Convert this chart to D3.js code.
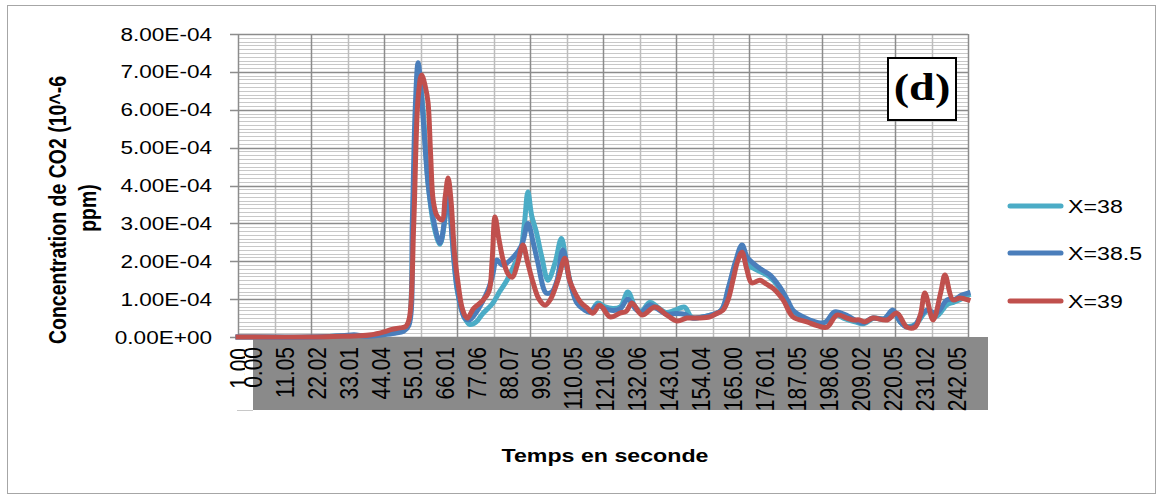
<!DOCTYPE html>
<html>
<head>
<meta charset="utf-8">
<script src="https://cdn.jsdelivr.net/npm/d3@7"></script>
<style>
  body { margin: 0; background: #fff; }
  svg { display: block; }
</style>
</head>
<body>
<svg id="chart" width="1162" height="499"></svg>
<script>
// ---- data -------------------------------------------------------------
const seriesNames  = ["X=38", "X=38.5", "X=39"];
const seriesColors = ["#4bacc6", "#4a7ebb", "#c0504d"];

// time (s) and CO2 concentration for each probe position
const time38 = [-5.84, 0, 20, 30, 40, 46, 50, 52.5, 53.2, 54.5, 56.2, 57.5, 59.5, 61.5, 63.5, 65.2, 66.3, 67.5, 69.5, 72, 73.8, 76, 78, 81.7, 84, 86.5, 89, 91, 92.5, 93.7, 95, 96.5, 98.5, 100.6, 103, 105.2, 107.2, 109.9, 112.5, 115, 117.7, 120, 123, 125.5, 128, 130.5, 132.5, 135.6, 138, 141, 144, 147.5, 150, 155, 160, 162.5, 165, 167.2, 169.5, 172, 176.5, 180, 183, 186, 190, 194, 197, 199, 202, 206, 209, 212.5, 216, 219, 221.5, 224, 227, 229.5, 231, 234, 237.5, 240, 242.5, 244.8];
const conc38 = [0, 0, 0, 3e-6, 4e-6, 1e-5, 1.5e-5, 3e-5, 5e-5, 4e-4, 7.0e-4, 6.2e-4, 4.0e-4, 2.9e-4, 2.45e-4, 3.1e-4, 4.0e-4, 2.8e-4, 1.2e-4, 5e-5, 3.3e-5, 4e-5, 6e-5, 9e-5, 1.2e-4, 1.5e-4, 1.9e-4, 2.2e-4, 3.0e-4, 3.83e-4, 3.2e-4, 2.8e-4, 2.1e-4, 1.5e-4, 1.95e-4, 2.6e-4, 1.8e-4, 1.05e-4, 8e-5, 6.5e-5, 9e-5, 8e-5, 7.5e-5, 8e-5, 1.19e-4, 8e-5, 6.8e-5, 9.2e-5, 8e-5, 6.5e-5, 7e-5, 7.9e-5, 5.2e-5, 5.5e-5, 7e-5, 1.2e-4, 1.9e-4, 2.35e-4, 1.9e-4, 1.78e-4, 1.6e-4, 1.3e-4, 8e-5, 6e-5, 4.5e-5, 3.5e-5, 4.5e-5, 6e-5, 5e-5, 4e-5, 3.5e-5, 5e-5, 4.8e-5, 6.8e-5, 4e-5, 2.8e-5, 3.5e-5, 6e-5, 7e-5, 5.5e-5, 8.5e-5, 9.2e-5, 1.0e-4, 1.1e-4];

const time385 = [-5.84, 20, 30, 34, 38, 44, 48, 51, 52.8, 54, 55, 56, 57.5, 59.4, 61.1, 63.5, 65.2, 66.3, 67.6, 69.5, 72, 73.5, 75.5, 77.9, 80, 81.5, 83, 85, 88.6, 91.6, 93.7, 95.5, 97, 100, 102, 103.7, 105.7, 108, 110.5, 113, 115, 117.7, 120, 123, 125.5, 128, 130.5, 132.5, 135.6, 138, 141.4, 144.5, 147.5, 150, 155, 160, 162.5, 165, 167.2, 169, 171, 173.5, 176.8, 180.2, 183, 184.7, 189, 194, 196, 199, 203, 206, 208.7, 212, 216, 219, 221.5, 223.8, 226.5, 228.5, 230.7, 234, 237.6, 240.5, 242.5, 244.8];
const conc385 = [0, 0, 3e-6, 6e-6, 2e-6, 6e-6, 1e-5, 1.5e-5, 3e-5, 3.0e-4, 6.0e-4, 7.24e-4, 6.0e-4, 4.06e-4, 3.17e-4, 2.48e-4, 3.17e-4, 4.06e-4, 2.7e-4, 1.25e-4, 5e-5, 4.5e-5, 6e-5, 9e-5, 1.24e-4, 1.6e-4, 2.03e-4, 1.9e-4, 2.1e-4, 2.43e-4, 3.0e-4, 2.5e-4, 2.0e-4, 1.16e-4, 1.2e-4, 1.5e-4, 2.3e-4, 1.5e-4, 9e-5, 7.2e-5, 6.6e-5, 8.4e-5, 7.5e-5, 7e-5, 7.5e-5, 1.0e-4, 7.5e-5, 6.5e-5, 8.5e-5, 7.5e-5, 6e-5, 6.2e-5, 6e-5, 5e-5, 5.5e-5, 7e-5, 1.3e-4, 2.0e-4, 2.43e-4, 2.1e-4, 1.95e-4, 1.8e-4, 1.64e-4, 1.32e-4, 9.5e-5, 7.1e-5, 5e-5, 3.7e-5, 4e-5, 6.6e-5, 5.8e-5, 4.5e-5, 3.7e-5, 5e-5, 4.8e-5, 7.1e-5, 4e-5, 2.6e-5, 3e-5, 5.5e-5, 7.1e-5, 6.3e-5, 9.8e-5, 1.0e-4, 1.1e-4, 1.16e-4];

const time39 = [-5.84, 20, 30, 36, 40, 44, 47, 49.8, 51.8, 53, 54.5, 56, 57.2, 58.5, 59.4, 60.3, 61.2, 62.5, 64.2, 65.3, 66.3, 67.3, 68.5, 69.7, 71, 72.2, 73, 75, 78, 80.3, 81.4, 82.4, 83.7, 85.2, 87, 88.4, 90, 92, 93.5, 95.5, 97.5, 99.6, 101.5, 104, 106.4, 108, 109.9, 112, 114, 116, 118.4, 121.9, 125.3, 127.5, 129.4, 132.9, 137.3, 141.4, 144.9, 148.3, 152, 156.2, 158.5, 160.7, 162.5, 164.1, 165.7, 167.2, 168.8, 170.5, 173.4, 175.5, 177.8, 181.3, 184.7, 189.5, 193, 196.4, 199.8, 203.2, 205.3, 207.5, 209.4, 212.2, 217, 220.4, 223.8, 226.6, 228.5, 230, 232.8, 235.5, 236.9, 239.6, 242, 244.8];
const conc39 = [0, 0, 2e-6, 3e-6, 6e-6, 1.3e-5, 2e-5, 2.4e-5, 2.8e-5, 5e-5, 3.0e-4, 6.3e-4, 6.92e-4, 6.6e-4, 6.2e-4, 4.8e-4, 3.6e-4, 3.2e-4, 3.09e-4, 3.7e-4, 4.2e-4, 3.6e-4, 2.2e-4, 1.43e-4, 8e-5, 5.5e-5, 5e-5, 7.5e-5, 9.5e-5, 1.2e-4, 2.0e-4, 3.17e-4, 2.6e-4, 2.03e-4, 1.65e-4, 1.58e-4, 1.9e-4, 2.43e-4, 2.0e-4, 1.43e-4, 1.0e-4, 8.4e-5, 1.0e-4, 1.5e-4, 2.08e-4, 1.5e-4, 1.16e-4, 9e-5, 7.7e-5, 6.3e-5, 8.4e-5, 5.3e-5, 6.3e-5, 6.8e-5, 9e-5, 5.8e-5, 7.9e-5, 5.8e-5, 4.2e-5, 5e-5, 5e-5, 5.3e-5, 6.2e-5, 7.1e-5, 1.0e-4, 1.5e-4, 2.0e-4, 2.24e-4, 1.8e-4, 1.43e-4, 1.5e-4, 1.4e-4, 1.29e-4, 9.8e-5, 5.3e-5, 4e-5, 3e-5, 2.6e-5, 5.8e-5, 5e-5, 4.5e-5, 4.5e-5, 4e-5, 5e-5, 4.5e-5, 6.3e-5, 2.6e-5, 2.6e-5, 6e-5, 1.16e-4, 4.5e-5, 1.2e-4, 1.64e-4, 9.8e-5, 1.03e-4, 9.8e-5];

// time-axis labels
const tickTimes  = [0, 11.05, 22.02, 33.01, 44.04, 55.01, 66.01, 77.06, 88.07, 99.05, 110.05, 121.06, 132.06, 143.01, 154.04, 165.00, 176.01, 187.05, 198.06, 209.02, 220.05, 231.02, 242.05];
const tickLabels = ["0.00", "11.05", "22.02", "33.01", "44.04", "55.01", "66.01", "77.06", "88.07", "99.05", "110.05", "121.06", "132.06", "143.01", "154.04", "165.00", "176.01", "187.05", "198.06", "209.02", "220.05", "231.02", "242.05"];
const firstCategoryLabel = "1.00";

// concentration axis
const yTicks      = [0, 1e-4, 2e-4, 3e-4, 4e-4, 5e-4, 6e-4, 7e-4, 8e-4];
const yTickLabels = ["0.00E+00", "1.00E-04", "2.00E-04", "3.00E-04", "4.00E-04", "5.00E-04", "6.00E-04", "7.00E-04", "8.00E-04"];
const yMinorStep = 1e-5;

const seriesTimes  = [time38, time385, time39];
const seriesValues = [conc38, conc385, conc39];

// ---- layout -----------------------------------------------------------
const plot = { left: 238, right: 968, top: 34, bottom: 337 };
const SX = 1.22;            // horizontal text stretch
const FONT = "'Liberation Sans', Arial, sans-serif";

const svg = d3.select("#chart");

const x = d3.scaleLinear().domain([-5.84, 244.8]).range([plot.left, plot.right]);
const y = d3.scaleLinear().domain([0, 8e-4]).range([plot.bottom, plot.top]);

function stretched(sel, px, py, rot) {
  return sel.attr("transform", `translate(${px},${py}) scale(${SX},1)` + (rot ? ` rotate(${rot})` : ""));
}

// outer frame
svg.append("rect")
  .attr("x", 7.5).attr("y", 5.5).attr("width", 1148).attr("height", 488)
  .attr("fill", "#fff").attr("stroke", "#a6a6a6").attr("stroke-width", 1);

// ---- grid -------------------------------------------------------------
const grid = svg.append("g");
const minorVals = d3.range(0, 8e-4 + 1e-9, yMinorStep).filter(v => Math.abs(v / 1e-4 - Math.round(v / 1e-4)) > 1e-6);
grid.selectAll("line.hmin").data(minorVals).join("line")
  .attr("x1", plot.left).attr("x2", plot.right)
  .attr("y1", d => Math.round(y(d)) + 0.5).attr("y2", d => Math.round(y(d)) + 0.5)
  .attr("stroke", "#c8c8c8").attr("stroke-width", 1);

const nCols = 20;
const colX = d3.range(1, nCols + 1).map(i => plot.left + (plot.right - plot.left) * i / nCols);
grid.selectAll("line.v").data(colX).join("line")
  .attr("x1", d => Math.round(d) + 0.5).attr("x2", d => Math.round(d) + 0.5)
  .attr("y1", plot.top).attr("y2", plot.bottom)
  .attr("stroke", (d, i) => (i % 2 === 1 ? "#8c8c8c" : "#bdbdbd"))
  .attr("stroke-width", 1.5);

grid.selectAll("line.hmaj").data(yTicks).join("line")
  .attr("x1", plot.left - 8).attr("x2", plot.right)
  .attr("y1", d => Math.round(y(d)) + 0.5).attr("y2", d => Math.round(y(d)) + 0.5)
  .attr("stroke", "#8c8c8c").attr("stroke-width", 1.5);

// value axis line
svg.append("line")
  .attr("x1", plot.left + 0.5).attr("x2", plot.left + 0.5)
  .attr("y1", plot.top).attr("y2", plot.bottom)
  .attr("stroke", "#8c8c8c").attr("stroke-width", 1.5);

// value-axis labels
svg.append("g").selectAll("text").data(yTicks).join("text")
  .each(function (d) { stretched(d3.select(this), 212, y(d) + 6.5); })
  .attr("text-anchor", "end")
  .attr("font-family", FONT).attr("font-size", 18.5).attr("fill", "#000")
  .text((d, i) => yTickLabels[i]);

// ---- category band ------------------------------------------------------
svg.append("defs").append("clipPath").attr("id", "firstLabelClip")
  .append("rect").attr("x", 200).attr("y", 340).attr("width", 45).attr("height", 80);

// first category label, partly hidden at the band edge
svg.append("g")
  .attr("clip-path", "url(#firstLabelClip)")
  .append("text")
  .attr("text-anchor", "end")
  .attr("font-family", FONT).attr("font-size", 21).attr("fill", "#000")
  .each(function () { stretched(d3.select(this), x(x.domain()[0]) + 10, 348, -90); })
  .text(firstCategoryLabel);

svg.append("rect")
  .attr("x", 253).attr("y", plot.bottom).attr("width", 735).attr("height", 73)
  .attr("fill", "#8a8a8a");

svg.append("line")
  .attr("x1", 237).attr("x2", 253).attr("y1", 410.5).attr("y2", 410.5)
  .attr("stroke", "#c8c8c8");

svg.append("g").selectAll("text").data(tickTimes).join("text")
  .each(function (d) { stretched(d3.select(this), x(d) + 6.5, 347, -90); })
  .attr("text-anchor", "end")
  .attr("font-family", FONT).attr("font-size", 21).attr("fill", "#000")
  .text((d, i) => tickLabels[i]);

// ---- series -------------------------------------------------------------
const line = d3.line().x(d => x(d[0])).y(d => y(d[1])).curve(d3.curveCatmullRom.alpha(0.5));
const lines = svg.append("g");
seriesNames.forEach((name, k) => {
  const pts = seriesTimes[k].map((t, i) => [t, seriesValues[k][i]]);
  lines.append("path")
    .datum(pts)
    .attr("d", line)
    .attr("fill", "none")
    .attr("stroke", seriesColors[k])
    .attr("stroke-width", 5)
    .attr("stroke-linejoin", "round")
    .attr("stroke-linecap", "square");
});

// ---- legend ------------------------------------------------------------
const legend = svg.append("g");
const legendY = [206, 253, 301];
seriesNames.forEach((name, k) => {
  legend.append("line")
    .attr("x1", 1010).attr("x2", 1061)
    .attr("y1", legendY[k]).attr("y2", legendY[k])
    .attr("stroke", seriesColors[k]).attr("stroke-width", 5).attr("stroke-linecap", "round");
  legend.append("text")
    .each(function () { stretched(d3.select(this), 1068, legendY[k] + 7); })
    .attr("font-family", FONT).attr("font-size", 19).attr("fill", "#000")
    .text(name);
});

// ---- panel tag ---------------------------------------------------------
svg.append("rect")
  .attr("x", 888).attr("y", 58).attr("width", 68).attr("height", 62)
  .attr("fill", "#fff").attr("stroke", "#000").attr("stroke-width", 2);
svg.append("text")
  .each(function () { stretched(d3.select(this), 922, 100); })
  .attr("text-anchor", "middle")
  .attr("font-family", "'Liberation Serif', 'Times New Roman', serif")
  .attr("font-weight", "bold").attr("font-size", 38).attr("fill", "#000")
  .text("(d)");

// ---- axis titles -------------------------------------------------------
svg.append("text")
  .each(function () { stretched(d3.select(this), 605, 462); })
  .attr("text-anchor", "middle")
  .attr("font-family", FONT).attr("font-weight", "bold").attr("font-size", 19).attr("fill", "#000")
  .text("Temps en seconde");

svg.append("text")
  .each(function () { stretched(d3.select(this), 66, 210, -90); })
  .attr("text-anchor", "middle")
  .attr("font-family", FONT).attr("font-weight", "bold").attr("font-size", 19.5).attr("fill", "#000")
  .text("Concentration de CO2 (10^-6");
svg.append("text")
  .each(function () { stretched(d3.select(this), 96, 208, -90); })
  .attr("text-anchor", "middle")
  .attr("font-family", FONT).attr("font-weight", "bold").attr("font-size", 19.5).attr("fill", "#000")
  .text("ppm)");
</script>
</body>
</html>
